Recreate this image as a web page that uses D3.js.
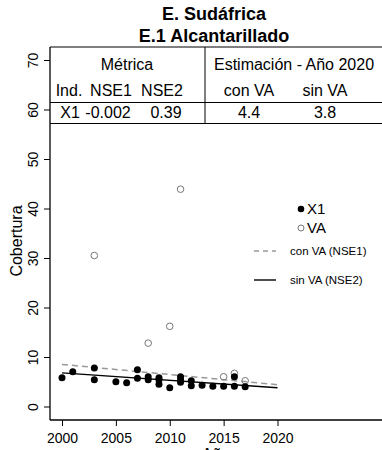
<!DOCTYPE html>
<html>
<head>
<meta charset="utf-8">
<script src="https://cdn.jsdelivr.net/npm/d3@7"></script>
<style>
  html, body { margin: 0; padding: 0; background: #fff; }
  svg { display: block; font-family: "Liberation Sans", Arial, sans-serif; }
</style>
</head>
<body>
<svg id="chart" width="382" height="450"></svg>
<script>
// ---- data ----
const x1Years  = [2000, 2001, 2003, 2003, 2005, 2006, 2007, 2007, 2008, 2008, 2009, 2009, 2009, 2010, 2011, 2011, 2011, 2012, 2012, 2013, 2014, 2015, 2016, 2016, 2017];
const x1Values = [5.8, 7.0, 7.8, 5.4, 5.0, 4.8, 7.4, 5.7, 6.0, 5.4, 5.8, 5.4, 4.5, 3.8, 6.0, 5.4, 4.9, 5.2, 4.2, 4.3, 4.1, 4.1, 6.0, 4.1, 4.0];
const vaYears  = [2003, 2008, 2010, 2011, 2015, 2016, 2017];
const vaValues = [30.5, 12.8, 16.2, 43.9, 6.0, 6.7, 5.2];
const fitYears = [2000, 2020];
const conVA    = [8.5, 4.4];   // con VA (NSE1)
const sinVA    = [6.8, 3.8];   // sin VA (NSE2)
const xTicks   = [2000, 2005, 2010, 2015, 2020];
const yTicks   = [0, 10, 20, 30, 40, 50, 60, 70];
const titles   = ["E. Sudáfrica", "E.1 Alcantarillado"];
const tableHeader1 = ["Métrica", "Estimación - Año 2020"];
const tableHeader2 = ["Ind.", "NSE1", "NSE2", "con VA", "sin VA"];
const tableRow     = ["X1", "-0.002", "0.39", "4.4", "3.8"];
const legendLabels = ["X1", "VA", "con VA (NSE1)", "sin VA (NSE2)"];

// ---- layout ----
const svg = d3.select("#chart");
const x = d3.scaleLinear().domain([2000, 2020]).range([62, 277.5]);
const y = d3.scaleLinear().domain([0, 70]).range([406.5, 60]);
const plotLeft = 50, plotRight = 382, plotBottom = 420, plotTop = 47;

// titles
svg.selectAll("text.title").data(titles).join("text")
  .attr("class", "title")
  .attr("x", 214).attr("y", (d, i) => i === 0 ? 20 : 41.5)
  .attr("text-anchor", "middle")
  .attr("font-size", 18).attr("font-weight", "bold")
  .text(d => d);

// axes lines (L shape)
svg.append("line").attr("x1", plotLeft).attr("x2", plotLeft).attr("y1", plotTop).attr("y2", plotBottom)
  .attr("stroke", "#000").attr("stroke-width", 1.3);
svg.append("line").attr("x1", plotLeft).attr("x2", plotRight).attr("y1", plotBottom).attr("y2", plotBottom)
  .attr("stroke", "#000").attr("stroke-width", 1.3);

// y axis
const yAxis = d3.axisLeft(y).tickValues(yTicks).tickSize(6).tickFormat(d3.format("d"));
const gy = svg.append("g").attr("transform", `translate(${plotLeft},0)`).call(yAxis);
gy.select(".domain").remove();
gy.selectAll(".tick line").attr("stroke", "#000");
gy.selectAll(".tick text")
  .attr("font-size", 14).attr("font-family", "Liberation Sans, Arial, sans-serif")
  .attr("fill", "#000")
  .attr("text-anchor", "middle")
  .attr("x", 0).attr("dy", null).attr("dominant-baseline", "central")
  .attr("transform", "translate(-17,0) rotate(-90)");

// x axis
const xAxis = d3.axisBottom(x).tickValues(xTicks).tickSize(6).tickFormat(d3.format("d"));
const gx = svg.append("g").attr("transform", `translate(0,${plotBottom})`).call(xAxis);
gx.select(".domain").remove();
gx.selectAll(".tick line").attr("stroke", "#000");
gx.selectAll(".tick text")
  .attr("font-size", 14).attr("font-family", "Liberation Sans, Arial, sans-serif")
  .attr("fill", "#000").attr("y", 10).attr("dy", "0.9em");

// axis titles
svg.append("text").attr("transform", "translate(16,241) rotate(-90)")
  .attr("text-anchor", "middle").attr("dominant-baseline", "central")
  .attr("font-size", 16).text("Cobertura");
svg.append("text").attr("x", 216).attr("y", 460)
  .attr("text-anchor", "middle").attr("font-size", 16).text("Año");

// table
const tLines = [47, 102.5, 123.5];
svg.selectAll("line.tline").data(tLines).join("line").attr("class", "tline")
  .attr("x1", plotLeft).attr("x2", plotRight).attr("y1", d => d).attr("y2", d => d)
  .attr("stroke", "#000").attr("stroke-width", 1);
svg.append("line").attr("x1", 205).attr("x2", 205).attr("y1", 47).attr("y2", 123.5)
  .attr("stroke", "#000").attr("stroke-width", 1);
const h1x = [127, 294];
svg.selectAll("text.h1").data(tableHeader1).join("text").attr("class", "h1")
  .attr("x", (d, i) => h1x[i]).attr("y", 70).attr("text-anchor", "middle")
  .attr("font-size", 16).text(d => d);
const colX2 = [69, 111, 162, 249, 325];
svg.selectAll("text.h2").data(tableHeader2).join("text").attr("class", "h2")
  .attr("x", (d, i) => colX2[i]).attr("y", 96).attr("text-anchor", "middle")
  .attr("font-size", 16).text(d => d);
const colX3 = [70, 108, 166, 249, 325];
svg.selectAll("text.r1").data(tableRow).join("text").attr("class", "r1")
  .attr("x", (d, i) => colX3[i]).attr("y", 118).attr("text-anchor", "middle")
  .attr("font-size", 16).text(d => d);

// fit lines
const line = d3.line().x(d => x(d[0])).y(d => y(d[1]));
svg.append("path").datum(fitYears.map((yr, i) => [yr, conVA[i]]))
  .attr("d", line).attr("fill", "none").attr("stroke", "#999")
  .attr("stroke-width", 1.5).attr("stroke-dasharray", "6,4");
svg.append("path").datum(fitYears.map((yr, i) => [yr, sinVA[i]]))
  .attr("d", line).attr("fill", "none").attr("stroke", "#000")
  .attr("stroke-width", 1.4);

// points
svg.selectAll("circle.va").data(vaYears).join("circle").attr("class", "va")
  .attr("cx", d => x(d)).attr("cy", (d, i) => y(vaValues[i])).attr("r", 3.3)
  .attr("fill", "none").attr("stroke", "#777").attr("stroke-width", 1);
svg.selectAll("circle.x1").data(x1Years).join("circle").attr("class", "x1")
  .attr("cx", d => x(d)).attr("cy", (d, i) => y(x1Values[i])).attr("r", 3.5)
  .attr("fill", "#000");

// legend
const lg = svg.append("g");
lg.append("circle").attr("cx", 301).attr("cy", 209).attr("r", 3.3).attr("fill", "#000");
lg.append("circle").attr("cx", 301).attr("cy", 228).attr("r", 3).attr("fill", "none").attr("stroke", "#777");
lg.append("text").attr("x", 307).attr("y", 214).attr("font-size", 15).text(legendLabels[0]);
lg.append("text").attr("x", 307).attr("y", 233).attr("font-size", 15).text(legendLabels[1]);
lg.append("line").attr("x1", 254).attr("x2", 276).attr("y1", 251).attr("y2", 251)
  .attr("stroke", "#999").attr("stroke-width", 1.5).attr("stroke-dasharray", "5,4");
lg.append("line").attr("x1", 254).attr("x2", 276).attr("y1", 280).attr("y2", 280)
  .attr("stroke", "#000").attr("stroke-width", 1.4);
lg.append("text").attr("x", 290).attr("y", 255).attr("font-size", 11.5).text(legendLabels[2]);
lg.append("text").attr("x", 290).attr("y", 284).attr("font-size", 11.5).text(legendLabels[3]);
</script>
</body>
</html>
